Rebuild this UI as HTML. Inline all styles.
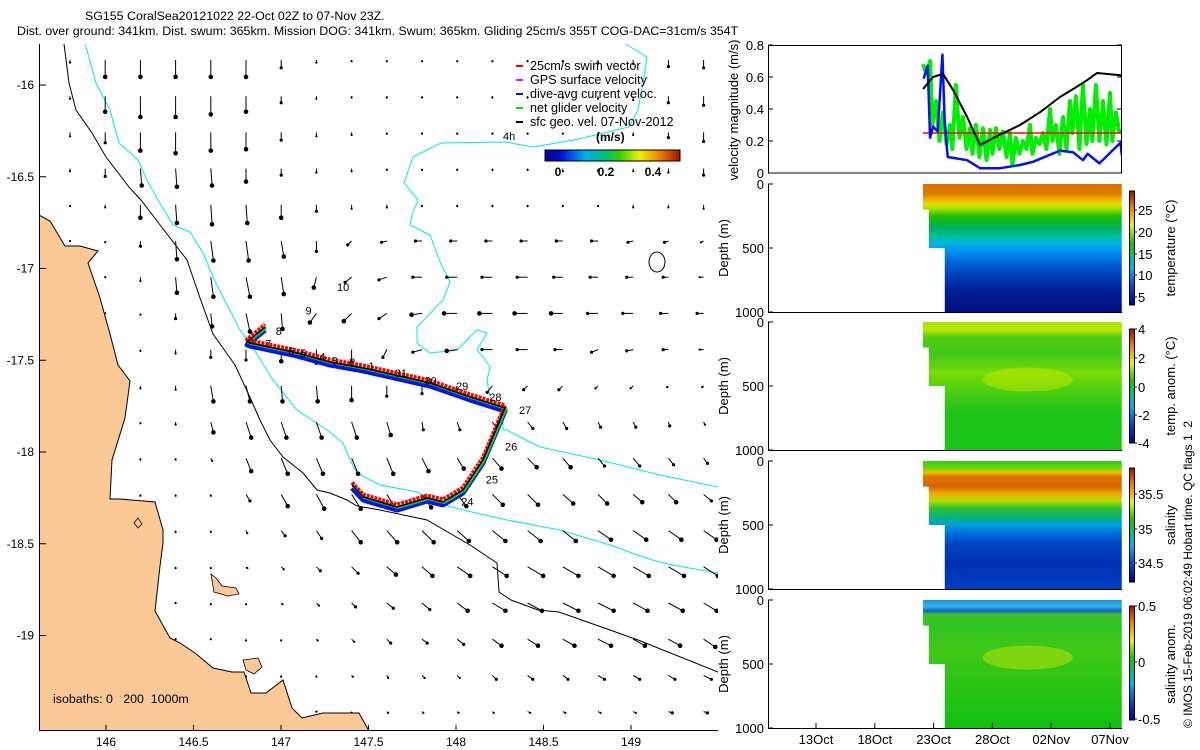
<!DOCTYPE html>
<html><head><meta charset="utf-8"><style>
html,body{margin:0;padding:0;background:#fff;}
svg{display:block;font-family:"Liberation Sans",sans-serif;}
text{fill:#000;white-space:pre;}
</style></head><body>
<svg id="fig" width="1200" height="750" viewBox="0 0 1200 750" xmlns="http://www.w3.org/2000/svg">
<defs>
<linearGradient id="jet" x1="0" y1="0" x2="1" y2="0">
<stop offset="0" stop-color="#00008f"/><stop offset="0.12" stop-color="#0010d0"/><stop offset="0.3" stop-color="#00b0f0"/><stop offset="0.45" stop-color="#00c070"/><stop offset="0.55" stop-color="#30d000"/><stop offset="0.7" stop-color="#f0f000"/><stop offset="0.85" stop-color="#f08000"/><stop offset="1" stop-color="#a01000"/>
</linearGradient>
<linearGradient id="cbv" x1="0" y1="1" x2="0" y2="0">
<stop offset="0" stop-color="#00008f"/><stop offset="0.15" stop-color="#0040d0"/><stop offset="0.32" stop-color="#00b0f0"/><stop offset="0.45" stop-color="#00c070"/><stop offset="0.55" stop-color="#20c000"/><stop offset="0.7" stop-color="#f0f000"/><stop offset="0.85" stop-color="#f08000"/><stop offset="1" stop-color="#a01000"/>
</linearGradient>
<linearGradient id="gT" x1="0" y1="0" x2="0" y2="1">
<stop offset="0" stop-color="#dc6e00"/><stop offset="0.08" stop-color="#e08000"/><stop offset="0.12" stop-color="#f0b000"/><stop offset="0.16" stop-color="#e0e000"/><stop offset="0.2" stop-color="#90e000"/><stop offset="0.25" stop-color="#20c000"/><stop offset="0.33" stop-color="#00b050"/><stop offset="0.41" stop-color="#00c0a0"/><stop offset="0.47" stop-color="#00b0e8"/><stop offset="0.53" stop-color="#0090f0"/><stop offset="0.62" stop-color="#0060d8"/><stop offset="0.72" stop-color="#0040b8"/><stop offset="0.82" stop-color="#002298"/><stop offset="1" stop-color="#000e80"/>
</linearGradient>
<linearGradient id="gTA" x1="0" y1="0" x2="0" y2="1">
<stop offset="0" stop-color="#a8e400"/><stop offset="0.06" stop-color="#b8e800"/><stop offset="0.12" stop-color="#50cc10"/><stop offset="0.25" stop-color="#40c818"/><stop offset="0.4" stop-color="#78dc08"/><stop offset="0.52" stop-color="#50d010"/><stop offset="0.7" stop-color="#20c418"/><stop offset="1" stop-color="#18c418"/>
</linearGradient>
<linearGradient id="gS" x1="0" y1="0" x2="0" y2="1">
<stop offset="0" stop-color="#30cc20"/><stop offset="0.06" stop-color="#70dc00"/><stop offset="0.09" stop-color="#f0c000"/><stop offset="0.12" stop-color="#e07400"/><stop offset="0.2" stop-color="#d86400"/><stop offset="0.26" stop-color="#f0b000"/><stop offset="0.31" stop-color="#b0e000"/><stop offset="0.37" stop-color="#30c030"/><stop offset="0.45" stop-color="#00b088"/><stop offset="0.5" stop-color="#00a0e0"/><stop offset="0.56" stop-color="#0070e0"/><stop offset="0.65" stop-color="#0044c4"/><stop offset="0.8" stop-color="#0030b0"/><stop offset="1" stop-color="#0040c4"/>
</linearGradient>
<linearGradient id="gSA" x1="0" y1="0" x2="0" y2="1">
<stop offset="0" stop-color="#2090e8"/><stop offset="0.05" stop-color="#30b8e0"/><stop offset="0.085" stop-color="#1060d0"/><stop offset="0.11" stop-color="#40c030"/><stop offset="0.2" stop-color="#30c420"/><stop offset="0.4" stop-color="#40c818"/><stop offset="1" stop-color="#10c010"/>
</linearGradient>
</defs>
</svg>
<script>
// ===== data =====
const gridRows = 19, gridCols = 19;
const U = [
[0,0,0,0,0,0,0,0,0,0,0,0,0,0,0,0,0,0,0],
[0,0,0,0,0,0,0,0,0,0,0,0,0,0,0,0,0,0,0],
[0,0,0,0,0,0,0,0,0,0,0,0,0,0,0,0,0,0,0],
[0,0,1,1,1,0,0,0,0,0,0,0,0,0,0,0,0,0,0],
[0,0,0,1,1,1,0,0,0,0,0,0,0,0,0,0,0,0,0],
[0,0,0,1,2,2,2,0,-3,-4,-5,-5,-5,-5,-5,-5,-4,-3,-2],
[0,0,0,1,2,3,2,-2,-5,-6,-7,-8,-8,-8,-7,-6,-5,-4,-3],
[0,0,0,0,1,3,1,-5,-6,-6,-8,-10,-10,-10,-9,-8,-8,-6,-5],
[0,0,0,0,0,0,0,0,0,-3,-7,-8,-8,-8,-6,-5,-5,-4,-3],
[0,0,0,0,2,3,1,1,0,0,0,-2,-4,-3,-3,-2,-2,-1,-1],
[0,0,0,0,2,4,4,4,4,3,1,2,4,4,3,2,2,1,1],
[0,0,0,0,1,4,5,5,5,5,5,5,7,7,6,5,5,4,3],
[0,0,0,0,0,3,5,6,7,7,7,7,8,8,8,7,7,6,6],
[0,0,0,0,0,1,3,4,7,8,9,9,10,10,10,10,10,10,10],
[0,0,0,0,0,1,2,3,5,7,8,10,11,12,12,12,12,12,11],
[0,0,0,0,0,0,1,2,3,5,6,8,10,11,12,12,11,11,10],
[0,0,0,0,0,0,0,1,2,3,4,5,7,8,9,10,9,9,9],
[0,0,0,0,0,0,0,0,1,1,2,2,3,4,4,5,5,5,6],
[0,0,0,0,0,0,0,0,0,1,1,1,1,2,2,2,2,3,3]];
const V = [
[-2,-13,-13,-13,-13,-13,-6,-2,-1,-1,-1,-1,-1,-1,-1,-2,-3,-5,-6],
[-2,-12,-16,-16,-14,-12,-5,-2,-1,-1,-1,-1,-1,-1,-1,-2,-3,-5,-7],
[-3,-8,-14,-16,-14,-13,-6,-3,-2,-1,-1,-1,-1,-1,-1,-2,-2,-4,-7],
[-2,-6,-13,-14,-13,-10,-5,-3,-2,-1,-1,-1,-1,-1,-2,-2,-2,-3,-5],
[-1,-2,-10,-14,-15,-14,-10,-5,-3,-2,-1,-1,-1,-1,-1,-1,-2,-2,-3],
[0,-1,-4,-14,-15,-15,-12,-8,-3,-1,0,0,0,0,0,0,-1,-1,-1],
[0,0,-3,-12,-15,-15,-13,-8,-4,-2,0,0,0,0,0,0,0,0,0],
[0,0,-1,-4,-10,-14,-12,-7,-6,-4,-1,0,0,0,0,0,0,0,0],
[-1,0,-1,-3,-6,-8,-9,-10,-10,-6,-2,-1,0,0,0,-2,-1,0,0],
[-1,-1,-2,-3,-12,-12,-12,-12,-11,-8,-6,-5,-5,-3,-3,-2,-2,-1,-1],
[-1,-1,-1,-2,-8,-12,-12,-12,-12,-10,-6,-6,-6,-5,-5,-4,-4,-3,-2],
[-1,-1,-1,-1,-2,-10,-12,-12,-12,-12,-10,-8,-8,-7,-7,-6,-6,-5,-4],
[0,-1,-1,-1,-1,-5,-9,-11,-11,-11,-10,-9,-8,-8,-7,-7,-6,-6,-5],
[0,0,-1,-1,-1,-2,-4,-6,-9,-9,-9,-8,-8,-8,-8,-7,-7,-7,-7],
[0,0,0,-1,-1,-1,-2,-3,-5,-6,-7,-7,-7,-7,-7,-7,-7,-7,-7],
[0,0,0,0,-1,-1,-1,-2,-3,-4,-5,-6,-6,-6,-6,-6,-6,-6,-6],
[0,0,0,0,0,-1,-1,-1,-2,-3,-3,-4,-5,-5,-5,-5,-5,-5,-6],
[0,0,0,0,0,-1,-1,-1,-1,-2,-2,-2,-3,-3,-3,-3,-3,-3,-3],
[0,0,0,0,0,0,0,0,-1,-1,-1,-1,-1,-1,-1,-1,-1,-1,-1]];
const trackLon = [147.406,147.469,147.663,147.834,147.926,148.040,148.154,148.234,148.280,148.080,147.851,147.697,147.469,147.280,147.091,146.823,146.806,146.909];
const trackLat = [-18.180,-18.245,-18.300,-18.251,-18.272,-18.207,-18.044,-17.864,-17.760,-17.700,-17.624,-17.591,-17.542,-17.510,-17.460,-17.406,-17.400,-17.319];
const diveLabels = ['8','7','6','5','4','3','2','1','31','30','29','28','27','26','25','24','9','10'];
const diveLon = [146.97,146.91,147.04,147.11,147.22,147.29,147.39,147.50,147.65,147.82,148.00,148.19,148.36,148.28,148.17,148.03,147.14,147.32];
const diveLat = [-17.34,-17.41,-17.45,-17.46,-17.48,-17.50,-17.51,-17.53,-17.57,-17.61,-17.64,-17.70,-17.77,-17.97,-18.15,-18.27,-17.23,-17.10];
const lonTicks = [146,146.5,147,147.5,148,148.5,149];
const latTicks = [-16,-16.5,-17,-17.5,-18,-18.5,-19];
const sfcDay = [22.1,22.95,23.8,24.65,25.85,26.95,28.65,30.35,32.05,33.75,35.2,36.05,36.9,39.0];
const sfcVal = [0.525,0.60,0.62,0.52,0.35,0.175,0.24,0.30,0.38,0.475,0.54,0.58,0.625,0.61];
const dacDay = [22.15,22.5,22.7,22.95,23.35,23.75,23.95,24.2,25.85,26.95,28.65,30.35,31.45,33.75,34.85,35.7,36.1,37.1,38.2,38.9,39.0];
const dacVal = [0.59,0.67,0.22,0.29,0.26,0.74,0.31,0.10,0.08,0.03,0.03,0.05,0.07,0.14,0.13,0.08,0.12,0.06,0.14,0.19,0.11];
const swimDay = [22.1,39.0];
const swimVal = [0.25,0.25];
const netDay = [22.1,22.4,22.7,22.9,23.2,23.5,23.8,24.1,24.4,24.6,24.9,25.2,25.5,25.8,26.1,26.3,26.6,26.9,27.2,27.5,27.8,28.0,28.3,28.6,28.9,29.2,29.5,29.7,30.0,30.3,30.6,30.9,31.2,31.4,31.7,32.0,32.3,32.6,32.9,33.1,33.4,33.7,34.0,34.3,34.6,34.8,35.1,35.4,35.7,36.0,36.3,36.5,36.8,37.1,37.4,37.7,38.0,38.2,38.5,38.8];
const netVal = [0.68,0.62,0.70,0.30,0.45,0.20,0.38,0.18,0.30,0.15,0.55,0.22,0.35,0.15,0.28,0.12,0.30,0.10,0.28,0.08,0.27,0.12,0.28,0.15,0.26,0.10,0.25,0.05,0.22,0.12,0.20,0.15,0.30,0.12,0.22,0.18,0.25,0.15,0.40,0.20,0.30,0.12,0.35,0.15,0.45,0.25,0.48,0.15,0.55,0.18,0.40,0.20,0.55,0.20,0.45,0.18,0.50,0.20,0.38,0.25];
const velTicks = [0,0.2,0.4,0.6,0.8];
const dateTickDays = [13,18,23,28,33,38];
const dateTickLabels = ['13Oct','18Oct','23Oct','28Oct','02Nov','07Nov'];
const depthTicks = [0,500,1000];

// ===== helpers =====
const NS='http://www.w3.org/2000/svg';
const svg=document.getElementById('fig');
function mk(tag,attrs,parent){const e=document.createElementNS(NS,tag);for(const k in attrs)e.setAttribute(k,attrs[k]);(parent||svg).appendChild(e);return e;}
function txt(s,x,y,opts,parent){const t=mk('text',Object.assign({x:x,y:y,'font-size':12},opts||{}),parent);t.textContent=s;return t;}
const mx = lon => 106 + 175*(lon-146);
const my = lat => 268.5 - 183.5*(lat+17);
const xd = d => 816 + (d-13)*11.76;
const yv = v => 173 - v*160;
const arrowScale = 1.3;

// ===== title =====
let t;
t=txt('SG155 CoralSea20121022 22-Oct 02Z to 07-Nov 23Z.',85,20,{'font-size':12.4});


t=txt('Dist. over ground: 341km. Dist. swum: 365km. Mission DOG: 341km. Swum: 365km. Gliding 25cm/s 355T COG-DAC=31cm/s 354T',17,35,{'font-size':12.4});



// ===== map =====
const map=mk('g',{});


const mapClip=mk('clipPath',{id:'mapclip'},map);
mk('rect',{x:40,y:44,width:678,height:686},mapClip);
const mg=mk('g',{'clip-path':'url(#mapclip)'},map);

function poly(pts,attrs,name){const p=mk('polyline',Object.assign({points:pts,fill:'none'},attrs),mg);return p;}
poly('64,44 69,83 76,110 92,133 106,157 129,187 141,200 157,221 187,260 200,298 213,334 235,365 248,393 260,420 270,440 283,457 303,473 317,490 330,493 347,500 357,506 380,510 427,520 470,545 497,563 499,592 511,600 538,610 559,612 610,630 638,640 718,672',{stroke:'#000','stroke-width':1},'isobath-1000m');
poly('85,43 96,83 110,110 119,143 138,160 147,180 158,200 173,225 190,232 203,253 213,277 227,305 240,330 250,343 273,380 297,410 327,430 343,443 350,460 357,473 380,485 417,492 437,503 463,510 507,520 560,530 610,545 652,560 672,565 718,573',{stroke:'#00e8f0','stroke-width':1},'isobath-200m-coastal');
poly('624,43 647,57 643,83 638,110 629,127 574,140 533,147 505,142 441,143 413,157 404,183 418,200 412,215 410,225 430,235 440,262 450,282 443,300 417,327 417,343 430,353 457,350 477,330 487,333 477,350 483,357 490,367 487,380 490,397 497,407 503,413 503,430 507,430 520,437 540,447 600,460 660,475 718,487',{stroke:'#00e8f0','stroke-width':1},'isobath-200m-reef');
const ring=mk('ellipse',{cx:657,cy:262,rx:8,ry:10,fill:'none',stroke:'#000','stroke-width':1},mg);



for(let r=0;r<gridRows;r++){for(let c=0;c<gridCols;c++){
  const x0=70+35.2*c, y0=60+36.2*r;
  const x1=x0+U[r][c]*arrowScale, y1=y0-V[r][c]*arrowScale;
  const g=mk('g',{},mg);
  
  
  mk('line',{x1:x0,y1:y0,x2:x1,y2:y1,stroke:'#000','stroke-width':1},g);
  const mag=Math.hypot(U[r][c],V[r][c]);
  mk('circle',{cx:x1,cy:y1,r:mag>8?2.3:(mag>3?1.6:1.1),fill:'#000'},g);
}}

const land=mk('path',{d:'M39,215 L50,221 L65,246 L80,246 L98,251 L88,263 L100,298 L110,334 L118,365 L130,381 L125,418 L112,460 L110,499 L120,499 L155,502 L163,530 L163,543 L160,566 L155,611 L170,638 L180,643 L195,653 L213,668 L232,672 L244,672 L251,693 L266,693 L283,680 L292,708 L302,718 L323,713 L359,713 L369,731 L39,731 Z',fill:'#fbc995',stroke:'#000','stroke-width':1},mg);


const isl1=mk('path',{d:'M211,574 L216,578 L222,586 L236,588 L239,594 L228,596 L214,592 Z',fill:'#fbc995',stroke:'#000','stroke-width':0.8},mg);


const isl2=mk('path',{d:'M243,660 L258,658 L262,667 L254,674 L246,670 Z',fill:'#fbc995',stroke:'#000','stroke-width':0.8},mg);


const isl3=mk('path',{d:'M134,523 L138,518 L142,524 L138,528 Z',fill:'#fbc995',stroke:'#000','stroke-width':0.8},mg);



const tp=trackLon.map((lo,i)=>[mx(lo),my(trackLat[i])]);
const blue=mk('polyline',{points:tp.map(p=>p[0]+','+(p[1]+3)).join(' '),fill:'none',stroke:'#0010ff','stroke-width':5,'stroke-linejoin':'round'},mg);


const green=mk('polyline',{points:tp.map(p=>(p[0]+1)+','+(p[1]+0.5)).join(' '),fill:'none',stroke:'#00e000','stroke-width':3,'stroke-linejoin':'round'},mg);


const red=mk('polyline',{points:tp.map(p=>p[0]+','+(p[1]-2.5)).join(' '),fill:'none',stroke:'#ff0000','stroke-width':4,'stroke-dasharray':'3 1','stroke-linejoin':'round'},mg);


const blk=mk('polyline',{points:tp.map(p=>p.join(',')).join(' '),fill:'none',stroke:'#000','stroke-width':1.5},mg);


for(let i=0;i<diveLabels.length;i++){
  const l=txt(diveLabels[i],mx(diveLon[i]),my(diveLat[i])+4,{'font-size':11},mg);
  
  
}
t=txt('4h',503,140,{'font-size':11},mg);



const ax=mk('g',{stroke:'#000','stroke-width':1},map);


mk('line',{x1:39.5,y1:44,x2:39.5,y2:731},ax);
mk('line',{x1:39,y1:730.5,x2:718,y2:730.5},ax);
lonTicks.forEach(lo=>{mk('line',{x1:mx(lo),y1:731,x2:mx(lo),y2:725},ax);
  const l=txt(String(lo),mx(lo),746,{'text-anchor':'middle'},map);
  
  });
latTicks.forEach(la=>{mk('line',{x1:40,y1:my(la),x2:46,y2:my(la)},ax);
  const l=txt(String(la),34,my(la)+4,{'text-anchor':'end'},map);
  
  });
t=txt('isobaths: 0   200  1000m',53,703,{'font-size':12.4},map);



const leg=mk('g',{},map);


const legItems=[['25cm/s swim vector','#ff0000'],['GPS surface velocity','#ff00ff'],['dive-avg current veloc.','#0010ff'],['net glider velocity','#00e000'],['sfc geo. vel. 07-Nov-2012','#000']];
legItems.forEach((it,i)=>{const y=66+14*i;
  const g=mk('g',{},leg);
  
  
  mk('line',{x1:516,y1:y,x2:523,y2:y,stroke:it[1],'stroke-width':2},g);
  txt(it[0],530,y+4,{'font-size':12.6},g);});
const cb=mk('g',{},leg);


txt('(m/s)',596,141,{'font-weight':'bold'},cb);
mk('rect',{x:545,y:150,width:135,height:11,fill:'url(#jet)',stroke:'#000','stroke-width':1},cb);
[['0',558],['0.2',606],['0.4',653]].forEach(a=>txt(a[0],a[1],176,{'text-anchor':'middle','font-weight':'bold'},cb));

// ===== velocity panel =====
const vp=mk('g',{});


const vclip=mk('clipPath',{id:'vclip'},vp);
mk('rect',{x:768,y:45,width:354,height:128},vclip);
const vg=mk('g',{'clip-path':'url(#vclip)'},vp);
function series(days,vals,color,w,name){const p=mk('polyline',{points:days.map((d,i)=>xd(d)+','+yv(vals[i])).join(' '),fill:'none',stroke:color,'stroke-width':w,'stroke-linejoin':'round'},vg);}
series(netDay,netVal,'#00ee00',4,'net-glider-velocity-series');
series(swimDay,swimVal,'#ff0000',1.5,'swim-speed-series');
series(dacDay,dacVal,'#0010ff',2.5,'dive-avg-current-series');
series(sfcDay,sfcVal,'#000',2,'surface-geostrophic-series');
const vb=mk('rect',{x:768.5,y:45.5,width:353,height:127.5,fill:'none',stroke:'#000','stroke-width':1},vp);


velTicks.forEach(v=>{mk('line',{x1:768,y1:yv(v),x2:773,y2:yv(v),stroke:'#000'},vp);mk('line',{x1:1117,y1:yv(v),x2:1122,y2:yv(v),stroke:'#000'},vp);
  const l=txt(String(v),764,yv(v)+5,{'text-anchor':'end','font-size':13},vp);
  
  });
t=txt('velocity magnitude (m/s)',0,0,{'text-anchor':'middle','font-size':13,transform:'translate(738,110) rotate(-90)'},vp);



// ===== section panels =====
const panels=[
 {top:184,grad:'gT',name:'temperature',label:'temperature (°C)',cbTop:191,cbBot:305,ticks:[['25',210],['20',232],['15',254],['10',275],['5',297]]},
 {top:322,grad:'gTA',name:'temperature-anomaly',label:'temp. anom. (°C)',cbTop:329,cbBot:443,ticks:[['4',329],['2',358],['0',387],['-2',415],['-4',443]]},
 {top:461,grad:'gS',name:'salinity',label:'salinity',cbTop:468,cbBot:582,ticks:[['35.5',494],['35',529],['34.5',563]]},
 {top:600,grad:'gSA',name:'salinity-anomaly',label:'salinity anom.',cbTop:606,cbBot:720,ticks:[['0.5',606],['0',662],['-0.5',719]]}];
panels.forEach((p,pi)=>{
  const g=mk('g',{});
  
  
  const yd=dep=>p.top+dep*128/1000;
  const x0=xd(22.1), x1=xd(22.6), x2=xd(23.95), xe=xd(39.0);
  const shape=mk('path',{d:`M${x0},${yd(0)} L${xe},${yd(0)} L${xe},${yd(1000)} L${x2},${yd(1000)} L${x2},${yd(500)} L${x1},${yd(500)} L${x1},${yd(200)} L${x0},${yd(200)} Z`,fill:`url(#${p.grad})`},g);
  
  
  if(p.grad==='gTA'||p.grad==='gSA'){
    const blob=mk('ellipse',{cx:xd(31),cy:yd(450),rx:45,ry:12,fill:'#d0e800',opacity:0.45},g);
    
    
  }
  mk('line',{x1:768.5,y1:p.top,x2:768.5,y2:p.top+128,stroke:'#000'},g);
  mk('line',{x1:768,y1:p.top+128.5,x2:1122,y2:p.top+128.5,stroke:'#000'},g);
  depthTicks.forEach(d=>{mk('line',{x1:768,y1:yd(d),x2:773,y2:yd(d),stroke:'#000'},g);
    const l=txt(String(d),764,yd(d)+5,{'text-anchor':'end','font-size':13},g);
    
    });
  const yl=txt('Depth (m)',0,0,{'text-anchor':'middle','font-size':13,transform:`translate(728,${p.top+64}) rotate(-90)`},g);
  
  
  const cbar=mk('rect',{x:1129.5,y:p.cbTop,width:5,height:p.cbBot-p.cbTop,fill:'url(#cbv)',stroke:'#000','stroke-width':1},g);
  
  
  p.ticks.forEach(tk=>{mk('line',{x1:1134,y1:tk[1],x2:1137,y2:tk[1],stroke:'#000'},g);
    const l=txt(tk[0],1138,tk[1]+5,{'font-size':13},g);
    
    });
  const cl=txt(p.label,0,0,{'text-anchor':'middle','font-size':13,transform:`translate(1175,${p.top+64}) rotate(-90)`},g);
  
  
});
dateTickDays.forEach((d,i)=>{mk('line',{x1:xd(d),y1:728,x2:xd(d),y2:723,stroke:'#000'});
  const l=txt(dateTickLabels[i],xd(d),744,{'text-anchor':'middle','font-size':13});
  
  });
t=txt('© IMOS 15-Feb-2019 06:02:49 Hobart time. QC flags 1  2',0,0,{'font-size':12,transform:'translate(1192,728) rotate(-90)'});


</script>
</body></html>
